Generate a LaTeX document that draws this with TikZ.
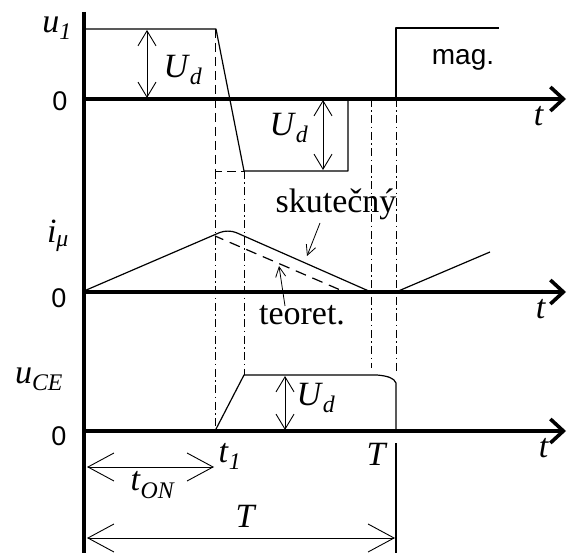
\documentclass[tikz,border=0pt]{standalone}
\usepackage{fontspec}
\setmainfont{Liberation Serif}
\newfontfamily\arialfont{Liberation Sans}
\usetikzlibrary{arrows.meta}
\tikzset{
  every node/.style={inner sep=0pt},
  axisline/.style={line width=3.6pt,-{Straight Barb[length=13pt,width=24pt]}},
  vaxis/.style={line width=3.6pt},
  signal/.style={line width=1.2pt,line join=round},
  dimline/.style={line width=0.9pt,{Straight Barb[length=15pt,width=18pt]}-{Straight Barb[length=15pt,width=18pt]}},
  spanline/.style={line width=0.9pt,{Straight Barb[length=26pt,width=28pt]}-{Straight Barb[length=26pt,width=28pt]}},
  pointer/.style={line width=0.8pt,-{Straight Barb[length=10pt,width=10pt]}},
  guide/.style={line width=0.9pt,dash pattern=on 9pt off 5pt},
  guidedot/.style={line width=0.9pt,dash pattern=on 8pt off 3.5pt on 1.5pt off 3.5pt},
  lab/.style={font=\fontsize{34}{36}\selectfont},
  zerolab/.style={font=\arialfont\fontsize{27}{29}\selectfont},
  maglab/.style={font=\arialfont\fontsize{28}{30}\selectfont},
}
\newcommand{\sig}[2]{\textit{#1}\textsubscript{\textit{#2}}}

\begin{document}
\begin{tikzpicture}[x=1pt,y=-1pt]
\useasboundingbox (0,0) rectangle (568,553);

% axes
\draw[vaxis] (84,12) -- (84,560);
\draw[axisline] (82,99) -- (566,99);
\draw[axisline] (82,292) -- (566,292);
\draw[axisline] (82,431) -- (566,431);

% guide lines
\draw[guide] (215,29) -- (215,171) -- (244,171);
\draw[guidedot] (215,171) -- (215,431);
\draw[guidedot] (244,171) -- (244,375);
\draw[guidedot] (371,99) -- (371,368);
\draw[guidedot] (396,99) -- (396,374);

% u1
\draw[signal] (84,29) -- (216,29) -- (244,171) -- (348,171) -- (348,99);
\draw[signal] (396,99) -- (396,28) -- (499,28);

% i_mu
\draw[signal,rounded corners=9pt] (84,291) -- (228,229) -- (371,292);
\draw[signal,dash pattern=on 11pt off 7pt,dash phase=2pt] (215,236) -- (345,292);
\draw[signal] (396,292) -- (490,252);

% u_CE
\draw[signal] (215,431) -- (244,375) -- (377,375) .. controls (388,376) and (394,378) .. (396,383) -- (396,431);
\draw[signal] (396,443) -- (396,560);

% labels
\node[lab] (lu1) at (57,28) {\sig{u}{1}};
\node[zerolab] (z1) at (60,101) {0};
\node[lab] (limu) at (58,236) {\sig{i}{μ}};
\node[zerolab] (z2) at (59,298) {0};
\node[lab] (luce) at (39,379) {\sig{u}{CE}};
\node[zerolab] (z3) at (59,436) {0};
\node[lab] (lt1) at (539,116) {\textit{t}};
\node[lab] (lt2) at (541,309) {\textit{t}};
\node[lab] (lt3) at (544,448) {\textit{t}};
\node[maglab] (lmag) at (463,60) {mag.};

% U_d
\draw[dimline] (147,30) -- (147,98);
\node[lab] (lud1) at (183,70) {\sig{U}{d}};
\draw[dimline] (323,100) -- (323,170);
\node[lab] (lud2) at (289,128) {\sig{U}{d}};
\draw[dimline] (285,376) -- (285,430);
\node[lab] (lud3) at (316,398) {\sig{U}{d}};

% real / ideal
\node[lab] (lreal) at (336,204) {skutečný};
\node[lab] (lideal) at (302,315) {teoret.};
\coordinate (preal) at (307,256);
\coordinate (pideal) at (279,266);
\draw[pointer] (320,223) -- (preal);
\draw[pointer] (285,306) -- (pideal);

% times
\node[lab] (lt1b) at (230,456) {\sig{t}{1}};
\node[lab] (lTa) at (377,454) {\textit{T}};
\draw[spanline] (87,467) -- (214,467);
\node[lab] (lton) at (153,485) {\sig{t}{ON}};
\draw[spanline] (87,538) -- (395,538);
\node[lab] (lTb) at (246,516) {\textit{T}};

\end{tikzpicture}
\end{document}
